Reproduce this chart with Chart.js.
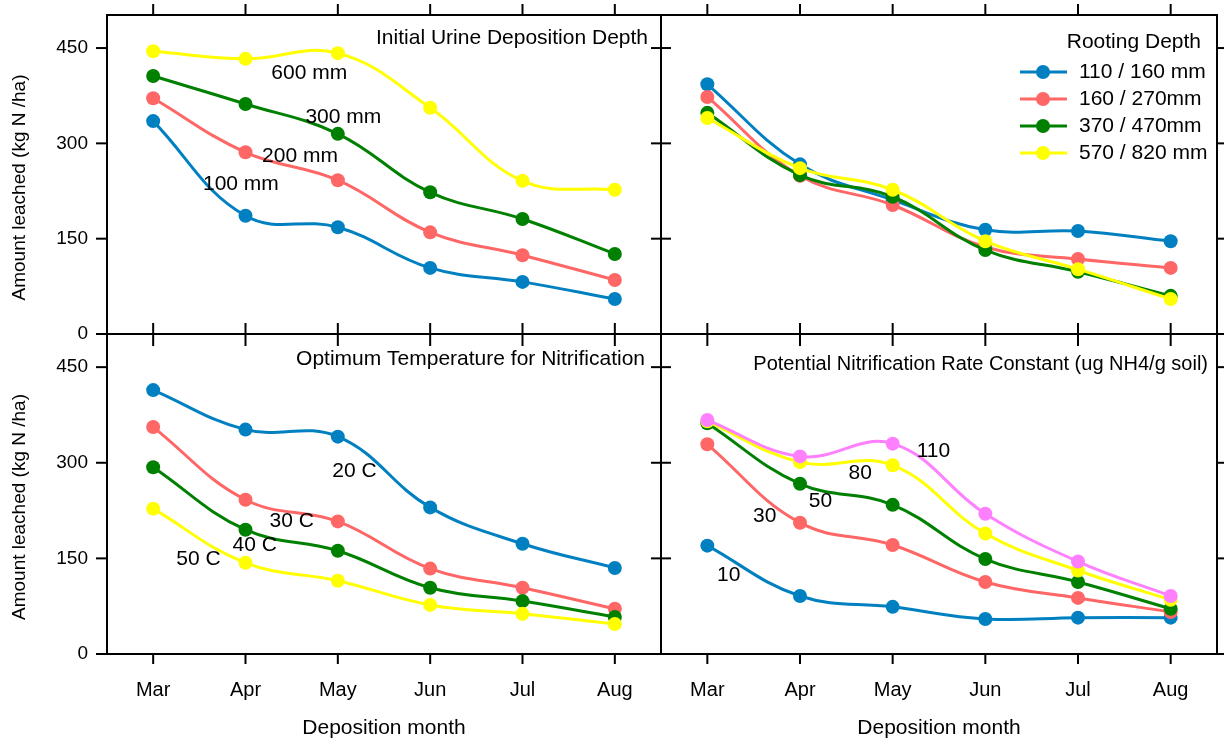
<!DOCTYPE html>
<html lang="en">
<head>
<meta charset="UTF-8">
<title>Amount leached by deposition month</title>
<style>
  body { margin: 0; background: #fff; }
  .wrap { position: relative; width: 1224px; height: 745px; }
  .wrap canvas { position: absolute; left: 0; top: 0; }
</style>
</head>
<body>
<div class="wrap">
  <canvas id="pTL" width="1224" height="745"></canvas>
  <canvas id="pTR" width="1224" height="745"></canvas>
  <canvas id="pBL" width="1224" height="745"></canvas>
  <canvas id="pBR" width="1224" height="745"></canvas>
</div>

<script src="https://cdn.jsdelivr.net/npm/chart.js@4.4.1/dist/chart.umd.min.js"></script>
<script>
// ---- data ----
const months = ['Mar', 'Apr', 'May', 'Jun', 'Jul', 'Aug'];

// Initial Urine Deposition Depth
const depthNames = ['100 mm', '200 mm', '300 mm', '600 mm'];
const depth100 = [335, 186, 168, 104, 82, 55];
const depth200 = [371, 286, 242, 160, 124, 85];
const depth300 = [406, 362, 315, 223, 181, 126];
const depth600 = [445, 433, 442, 356, 241, 227];

// Rooting Depth
const rootNames = ['110 / 160 mm', '160 / 270mm', '370 / 470mm', '570 / 820 mm'];
const root110 = [393, 267, 211, 164, 162, 146];
const root160 = [373, 249, 203, 137, 118, 104];
const root370 = [348, 250, 216, 132, 98, 60];
const root570 = [340, 261, 227, 146, 102, 55];

// Optimum Temperature for Nitrification
const tempNames = ['20 C', '30 C', '40 C', '50 C'];
const temp20 = [414, 352, 341, 230, 173, 135];
const temp30 = [356, 242, 208, 134, 104, 71];
const temp40 = [293, 195, 162, 104, 83, 58];
const temp50 = [228, 143, 115, 77, 63, 47];

// Potential Nitrification Rate Constant
const rateNames = ['10', '30', '50', '80', '110'];
const rate10 = [170, 91, 74, 55, 57, 57];
const rate30 = [329, 206, 171, 113, 88, 66];
const rate50 = [362, 267, 234, 149, 113, 71];
const rate80 = [365, 301, 296, 189, 131, 85];
const rate110 = [367, 310, 330, 220, 145, 91];

// ---- styling ----
const BLUE = '#0080C0', RED = '#FF6666', GREEN = '#008000', YELLOW = '#FFFF00', PINK = '#FF80FF';
const FONT = 'Liberation Sans, Arial, Helvetica, sans-serif';
Chart.defaults.font.family = FONT;
Chart.defaults.font.size = 20;
Chart.defaults.color = '#000';

function series(names, values, colors) {
  return names.map((n, i) => ({
    label: n,
    data: values[i],
    borderColor: colors[i],
    backgroundColor: colors[i],
    pointBackgroundColor: colors[i],
    pointBorderWidth: 0,
    pointRadius: 7,
    borderWidth: 3,
    tension: 0.4,
    fill: false,
    order: names.length - i
  }));
}

// frame, tick marks on every side, panel title, in-panel labels, legend
const panelDeco = {
  id: 'panelDeco',
  afterDraw(chart, args, o) {
    const { ctx, chartArea: a, scales: { x, y } } = chart;
    ctx.save();
    ctx.strokeStyle = '#000';
    ctx.lineWidth = 2;
    ctx.strokeRect(a.left, a.top, a.right - a.left, a.bottom - a.top);

    const line = (x1, y1, x2, y2) => { ctx.beginPath(); ctx.moveTo(x1, y1); ctx.lineTo(x2, y2); ctx.stroke(); };
    x.ticks.forEach((t, i) => {
      const px = x.getPixelForTick(i);
      line(px, a.top - o.sides.top[0], px, a.top + o.sides.top[1]);
      line(px, a.bottom - o.sides.bottom[1], px, a.bottom + o.sides.bottom[0]);
    });
    y.ticks.forEach((t, i) => {
      const py = y.getPixelForTick(i);
      line(a.left - o.sides.left[0], py, a.left + o.sides.left[1], py);
      line(a.right - o.sides.right[1], py, a.right + o.sides.right[0], py);
    });

    ctx.fillStyle = '#000';
    ctx.font = '21px ' + FONT;
    ctx.textBaseline = 'middle';

    // panel title
    ctx.save();
    ctx.font = (o.titleSize || 21) + 'px ' + FONT;
    ctx.textAlign = 'right';
    ctx.fillText(o.title, a.right - o.titleInset[0], a.top + o.titleInset[1]);
    ctx.restore();

    // curve labels, anchored in data units
    ctx.textAlign = 'center';
    (o.labels || []).forEach(l => {
      ctx.fillText(l.text, x.getPixelForValue(l.at[0]), y.getPixelForValue(l.at[1]));
    });

    // y axis title
    if (o.yTitle) {
      ctx.save();
      ctx.font = '19px ' + FONT;
      ctx.translate(20, (a.top + a.bottom) / 2 + 13);
      ctx.rotate(-Math.PI / 2);
      ctx.fillText('Amount leached (kg N /ha)', 0, 0);
      ctx.restore();
    }

    // legend with line + point symbols
    if (o.legend) {
      const ds = chart.data.datasets;
      ds.forEach((d, i) => {
        const ry = a.top + 57 + i * 27;
        const sx = a.right - 197;
        ctx.strokeStyle = d.borderColor;
        ctx.lineWidth = 3;
        line(sx, ry, sx + 47, ry);
        ctx.fillStyle = d.borderColor;
        ctx.beginPath();
        ctx.arc(sx + 23, ry, 7, 0, Math.PI * 2);
        ctx.fill();
        ctx.fillStyle = '#000';
        ctx.textAlign = 'left';
        ctx.fillText(d.label, sx + 59, ry);
      });
    }
    ctx.restore();
  }
};

function xAxis(show) {
  const ax = {
    type: 'category', labels: months, offset: true, display: show,
    ticks: { padding: 24, maxRotation: 0, autoSkip: false },
    grid: { display: false, drawTicks: false },
    border: { display: false },
    title: { display: show, text: 'Deposition month', font: { size: 21 }, padding: { top: 0, bottom: 4 } }
  };
  if (show) ax.afterFit = s => { s.height = 91; s.paddingLeft = 0; s.paddingRight = 0; };
  return ax;
}

function yAxis(show) {
  const ax = {
    display: show, min: 0, max: 502,
    ticks: { stepSize: 150, includeBounds: false, padding: 19, font: { size: 19 } },
    grid: { display: false, drawTicks: false },
    border: { display: false }
  };
  if (show) ax.afterFit = s => { s.width = 107; s.paddingTop = 0; s.paddingBottom = 0; };
  return ax;
}

function makePanel(id, datasets, pad, showX, showY, deco) {
  return new Chart(document.getElementById(id), {
    type: 'line',
    data: { labels: months, datasets },
    options: {
      responsive: false,
      animation: false,
      devicePixelRatio: 1,
      events: [],
      layout: { padding: pad },
      scales: { x: xAxis(showX), y: yAxis(showY) },
      plugins: { legend: { display: false }, tooltip: { enabled: false }, panelDeco: deco }
    },
    plugins: [panelDeco]
  });
}

makePanel('pTL',
  series(depthNames, [depth100, depth200, depth300, depth600], [BLUE, RED, GREEN, YELLOW]),
  { left: 0, top: 15, right: 563, bottom: 411 }, false, true,
  {
    title: 'Initial Urine Deposition Depth', titleInset: [13, 23], yTitle: true,
    sides: { top: [11, 0], bottom: [0, 11], left: [11, 0], right: [0, 10] },
    labels: [
      { text: '100 mm', at: [0.95, 236] },
      { text: '200 mm', at: [1.59, 280] },
      { text: '300 mm', at: [2.06, 341] },
      { text: '600 mm', at: [1.69, 411] }
    ]
  });

makePanel('pTR',
  series(rootNames, [root110, root160, root370, root570], [BLUE, RED, GREEN, YELLOW]),
  { left: 661, top: 15, right: 7, bottom: 411 }, false, false,
  {
    title: 'Rooting Depth', titleInset: [16, 27], legend: true,
    sides: { top: [11, 0], bottom: [0, 11], left: [0, 10], right: [8, 0] }
  });

makePanel('pBL',
  series(tempNames, [temp20, temp30, temp40, temp50], [BLUE, RED, GREEN, YELLOW]),
  { left: 0, top: 334, right: 563, bottom: 0 }, true, true,
  {
    title: 'Optimum Temperature for Nitrification', titleInset: [16, 25], yTitle: true,
    sides: { top: [0, 12], bottom: [10, 0], left: [11, 0], right: [0, 10] },
    labels: [
      { text: '20 C', at: [2.18, 286] },
      { text: '30 C', at: [1.50, 208] },
      { text: '40 C', at: [1.10, 170] },
      { text: '50 C', at: [0.49, 148] }
    ]
  });

makePanel('pBR',
  series(rateNames, [rate10, rate30, rate50, rate80, rate110], [BLUE, RED, GREEN, YELLOW, PINK]),
  { left: 661, top: 334, right: 7, bottom: 0 }, true, false,
  {
    title: 'Potential Nitrification Rate Constant (ug NH4/g soil)', titleSize: 20, titleInset: [9, 30],
    sides: { top: [0, 12], bottom: [10, 0], left: [0, 10], right: [8, 0] },
    labels: [
      { text: '10', at: [0.23, 124] },
      { text: '30', at: [0.62, 216] },
      { text: '50', at: [1.22, 239] },
      { text: '80', at: [1.65, 283] },
      { text: '110', at: [2.44, 318] }
    ]
  });
</script>
</body>
</html>
